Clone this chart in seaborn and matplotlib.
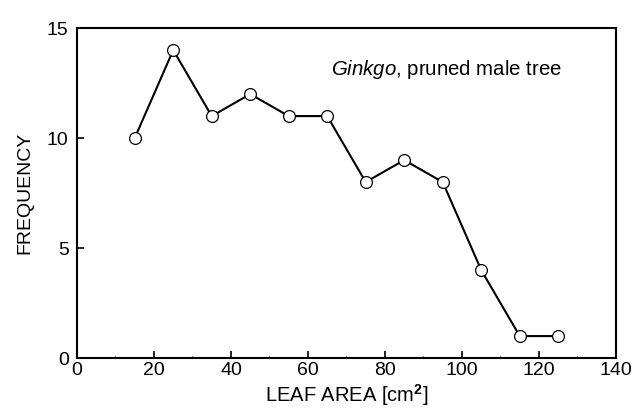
import matplotlib
matplotlib.use("Agg")
import matplotlib.pyplot as plt
from matplotlib.ticker import MultipleLocator
import seaborn as sns
import pandas as pd

# Leaf area bins (cm2) and frequency counts
leaf_area = [15, 25, 35, 45, 55, 65, 75, 85, 95, 105, 115, 125]
frequency = [10, 14, 11, 12, 11, 11, 8, 9, 8, 4, 1, 1]
x_ticks = [0, 20, 40, 60, 80, 100, 120, 140]
y_ticks = [0, 5, 10, 15]

df = pd.DataFrame({"area": leaf_area, "freq": frequency})

sns.set_style("white")
plt.rcParams["font.family"] = ["Liberation Sans", "DejaVu Sans"]
plt.rcParams["mathtext.fontset"] = "custom"
plt.rcParams["mathtext.rm"] = "Liberation Sans"
plt.rcParams["mathtext.it"] = "Liberation Sans:italic"
plt.rcParams["mathtext.bf"] = "Liberation Sans:bold"
plt.rcParams["text.color"] = "black"
plt.rcParams["axes.labelcolor"] = "black"

fig = plt.figure(figsize=(6.33, 4.13), dpi=100)
ax = fig.add_axes([0.1216, 0.133, 0.8515, 0.799])

sns.lineplot(data=df, x="area", y="freq", ax=ax, color="black", linewidth=1.5,
             marker="o", markersize=8.5, markerfacecolor="white",
             markeredgecolor="black", markeredgewidth=0.9)

ax.set_xlim(0, 140)
ax.set_ylim(0, 15)
ax.set_xticks(x_ticks)
ax.set_yticks(y_ticks)
ax.xaxis.set_minor_locator(MultipleLocator(10))
ax.tick_params(which="major", direction="in", length=5, width=1.2, labelsize=14,
               bottom=True, left=True, top=False, right=False,
               colors="black", labelcolor="black")
ax.tick_params(which="minor", direction="in", length=1.5, width=0.8,
               bottom=True, left=False, top=False, right=False, colors="black")
ax.tick_params(axis="x", pad=3)
ax.tick_params(axis="y", pad=6)
for s in ax.spines.values():
    s.set_linewidth(1.5)
    s.set_color("black")

ax.set_xlabel("LEAF AREA [cm$^\\mathbf{2}$]", fontsize=14.5, labelpad=2)
ax.set_ylabel("FREQUENCY", fontsize=14, labelpad=10)

ax.text(126, 13.1, "$\\mathit{Ginkgo}$, pruned male tree", fontsize=14.7,
        va="center", ha="right")

fig.savefig("out.png", dpi=100)
